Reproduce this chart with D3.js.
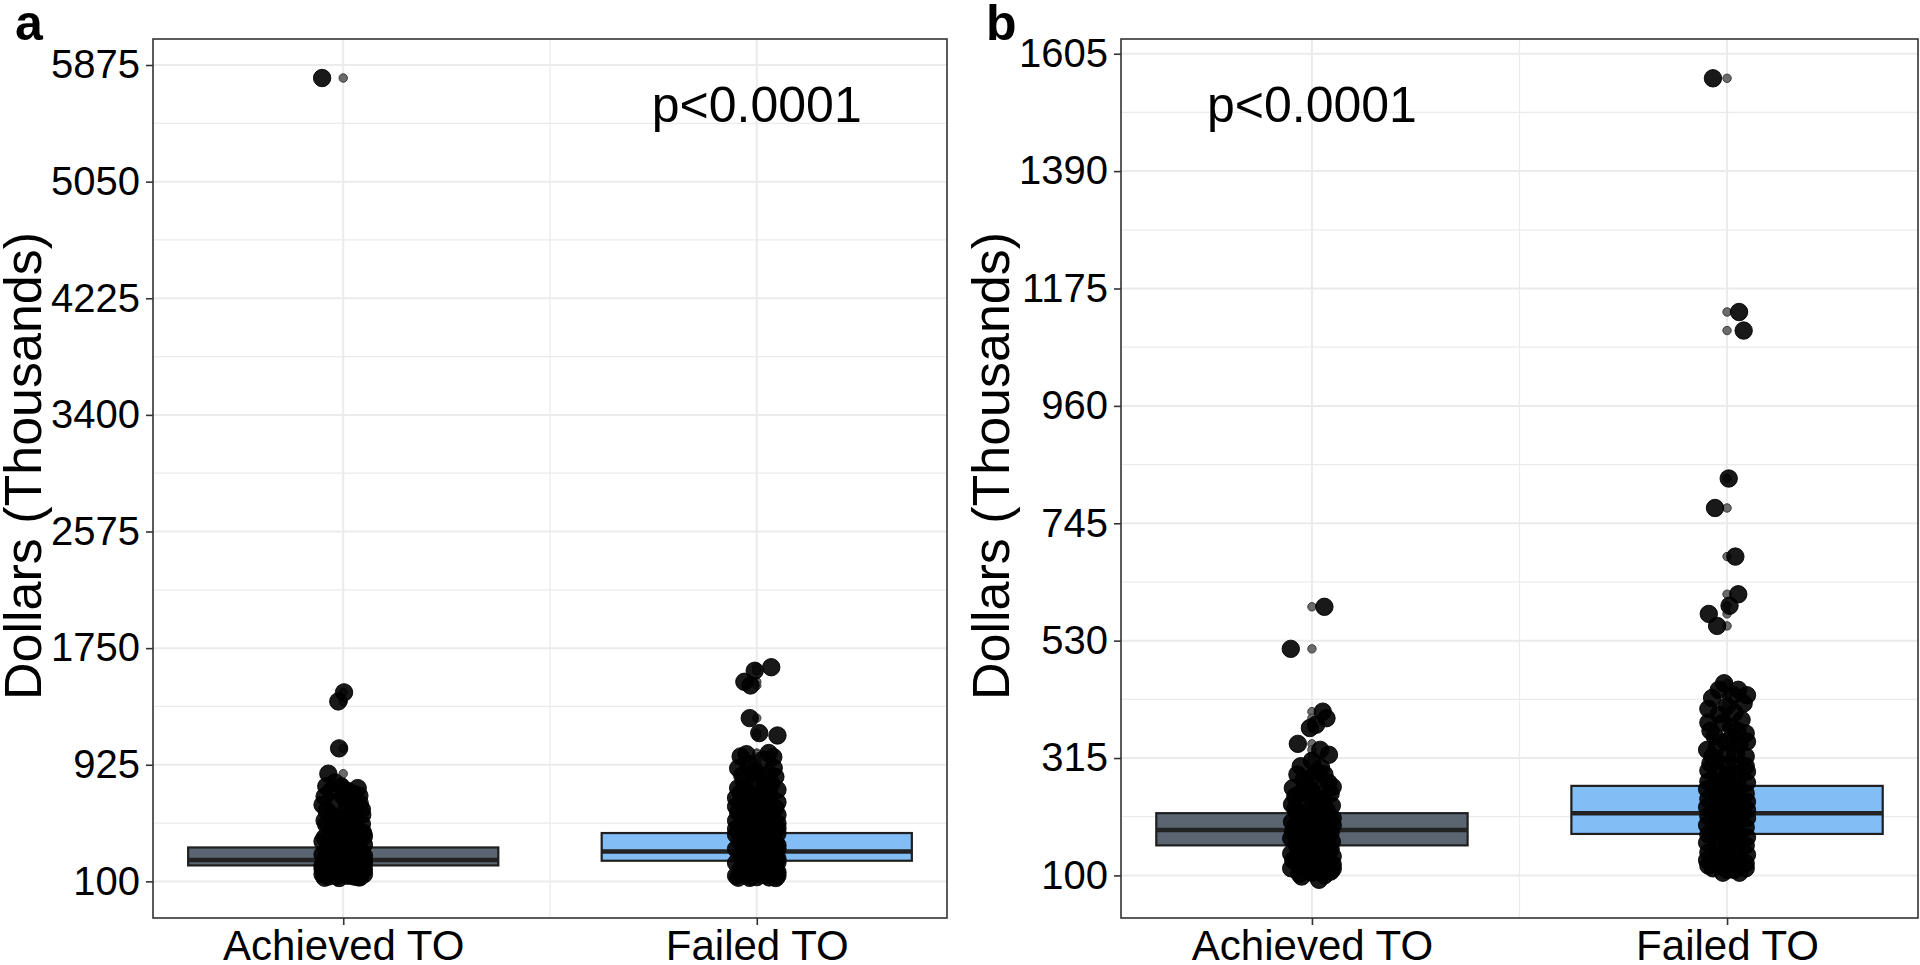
<!DOCTYPE html>
<meta charset="utf-8">
<script src="https://cdn.jsdelivr.net/npm/d3@7"></script>
<style>
  body { margin: 0; background: #fff; }
  text { font-family: "Liberation Sans", Arial, sans-serif; }
</style>
<svg id="chart" width="1920" height="965"></svg>
<script>

// categories and axis breaks
const groups = ["Achieved TO", "Failed TO"];
const ticksA = [100, 925, 1750, 2575, 3400, 4225, 5050, 5875];
const ticksB = [100, 315, 530, 745, 960, 1175, 1390, 1605];
const domainA = [-159, 6059];
const domainB = [22, 1632];

// box statistics (Achieved, Failed)
const q1A = [213, 246], medA = [252, 312], q3A = [340, 442];
const q1B = [155, 176], medB = [183, 214], q3B = [214, 264];

// jittered points: [horizontal jitter in category units, value]
const achievedA = [
  [-0.051, 5783], [0.002, 1437], [-0.012, 1373], [-0.010, 1041], [-0.036, 862],
  [-0.041, 772], [-0.005, 772], [0.039, 706], [-0.045, 700], [0.0, 700], [0.015, 678],
  [0.04, 650], [-0.05, 642], [0.02, 600], [-0.029, 572], [0.046, 572], [-0.03, 560],
  [-0.01, 520], [-0.041, 501], [0.03, 480], [0.048, 444], [-0.02, 455], [0.03, 470],
  [-0.045, 410], [0.0, 420], [0.04, 400], [-0.05, 383], [-0.03, 370], [0.015, 365],
  [0.05, 360], [-0.01, 330], [0.035, 325], [-0.04, 315], [-0.05, 290], [-0.015, 295],
  [0.025, 285], [0.05, 280], [-0.035, 255], [0.005, 250], [0.045, 245], [-0.05, 215],
  [-0.02, 210], [0.02, 205], [0.048, 210], [-0.04, 175], [0.0, 170], [0.04, 165],
  [-0.05, 150], [-0.015, 140], [0.025, 135], [0.05, 150], [-0.045, 126], [-0.01, 124],
  [0.035, 130], [0.01, 740], [-0.02, 800], [0.035, 760],
  [-0.03, 740], [0.025, 720], [-0.02, 660], [0.01, 625], [-0.04, 600], [0.045, 610],
  [0.0, 545], [0.025, 540], [-0.045, 530], [0.015, 500], [-0.025, 480], [0.045, 505],
  [-0.03, 440], [0.015, 445], [0.025, 400], [-0.02, 395], [0.05, 420], [-0.005, 375],
  [0.035, 345], [-0.03, 340], [0.015, 310], [-0.025, 315], [0.045, 305], [0.0, 275],
  [-0.03, 270], [0.035, 265], [-0.015, 230], [0.025, 232], [-0.045, 240], [0.05, 230],
  [-0.025, 190], [0.02, 190], [0.05, 185], [-0.05, 190], [-0.02, 160], [0.015, 155],
  [-0.035, 135], [0.01, 140], [0.04, 128]
];
const failedA = [
  [0.035, 1615], [-0.005, 1590], [-0.03, 1512], [-0.015, 1486], [-0.017, 1255],
  [0.006, 1149], [0.05, 1132], [-0.039, 984], [0.029, 1008], [0.041, 902], [-0.031, 807],
  [0.05, 748], [-0.039, 725], [0.0, 870], [-0.045, 760], [0.02, 800], [0.045, 840],
  [-0.02, 930], [0.01, 720], [-0.05, 690], [-0.02, 680], [0.03, 690], [0.05, 660],
  [-0.05, 630], [0.0, 640], [0.045, 620], [-0.03, 580], [0.02, 590], [0.05, 570],
  [-0.05, 530], [-0.01, 540], [0.035, 525], [-0.035, 480], [0.01, 490], [0.05, 475],
  [-0.05, 430], [-0.015, 435], [0.03, 425], [0.05, 440], [-0.04, 380], [0.0, 385],
  [0.045, 375], [-0.05, 330], [-0.02, 335], [0.02, 325], [0.05, 330], [-0.04, 280],
  [0.0, 285], [0.04, 275], [-0.05, 230], [-0.015, 235], [0.025, 225], [0.05, 235],
  [-0.04, 180], [0.005, 185], [0.045, 175], [-0.05, 140], [-0.015, 135], [0.025, 145],
  [0.05, 140], [-0.045, 126], [-0.017, 125], [0.03, 128], [0.046, 124],
  [-0.025, 1000], [0.015, 960], [0.04, 980], [-0.045, 900], [-0.01, 880], [0.03, 860],
  [-0.035, 850], [0.02, 760], [-0.01, 780], [0.035, 790], [-0.025, 740], [0.03, 730],
  [-0.01, 700], [0.015, 660], [-0.035, 650], [0.025, 640], [-0.025, 610], [0.01, 600],
  [-0.045, 590], [0.035, 560], [-0.02, 555], [0.015, 520], [0.05, 510], [-0.03, 505],
  [-0.015, 465], [0.03, 460], [-0.05, 470], [0.01, 410], [-0.03, 410], [0.035, 400],
  [0.02, 360], [-0.02, 360], [0.05, 355], [0.0, 310], [0.035, 300], [-0.035, 305],
  [0.02, 255], [-0.025, 255], [0.05, 260], [0.0, 210], [0.035, 200], [-0.035, 205],
  [0.02, 160], [-0.025, 160], [0.05, 165], [0.005, 150], [0.0, 130]
];
const achievedB = [
  [0.03, 592], [-0.051, 515], [0.026, 400], [0.035, 388], [0.01, 376], [-0.005, 370],
  [-0.034, 341], [0.041, 321], [0.02, 330], [-0.027, 300], [0.022, 297], [0.0, 310],
  [-0.046, 260], [0.0, 280], [0.04, 270], [-0.02, 275], [0.045, 250], [-0.04, 245],
  [0.0, 255], [0.025, 240], [-0.048, 230], [-0.015, 232], [0.02, 225], [0.048, 228],
  [-0.035, 215], [0.005, 212], [0.04, 208], [-0.048, 198], [-0.012, 200], [0.025, 195],
  [0.05, 192], [-0.03, 182], [0.01, 185], [0.045, 178], [-0.05, 168], [-0.018, 170],
  [0.02, 165], [0.048, 162], [-0.035, 152], [0.0, 155], [0.035, 150], [-0.05, 140],
  [-0.015, 138], [0.022, 140], [0.05, 135], [-0.04, 125], [0.0, 122], [0.035, 125],
  [-0.05, 113], [-0.015, 110], [0.018, 108], [0.045, 107], [-0.025, 98], [0.017, 92],
  [0.012, 290], [-0.035, 285], [0.03, 285], [-0.01, 262], [0.022, 258], [0.05, 262],
  [-0.028, 250], [0.01, 238], [-0.04, 222], [0.035, 220], [0.0, 226], [-0.025, 205],
  [0.022, 210], [0.05, 205], [-0.04, 190], [0.005, 195], [0.04, 190], [-0.015, 178],
  [0.03, 172], [-0.045, 180], [0.0, 168], [-0.035, 160], [0.035, 160], [0.01, 145],
  [-0.03, 145], [0.045, 148], [-0.02, 128], [0.02, 130], [0.05, 120], [-0.045, 128],
  [-0.03, 103], [0.0, 105], [0.03, 100], [0.05, 112]
];
const failedB = [
  [-0.034, 1560], [0.029, 1132], [0.04, 1098], [0.004, 827], [-0.029, 773], [0.02, 684],
  [0.027, 615], [0.006, 594], [-0.044, 579], [-0.024, 557], [-0.007, 452], [0.027, 440],
  [-0.036, 425], [0.04, 415], [0.0, 410], [-0.02, 395], [0.035, 385], [-0.045, 380],
  [0.01, 372], [0.045, 360], [-0.03, 355], [-0.005, 345], [0.03, 340], [-0.048, 330],
  [0.0, 322], [0.045, 318], [-0.025, 310], [0.02, 300], [-0.045, 292], [0.048, 290],
  [0.0, 285], [-0.025, 272], [0.025, 270], [-0.048, 258], [0.0, 255], [0.045, 250],
  [-0.025, 240], [0.025, 238], [-0.048, 225], [0.0, 222], [0.048, 220], [-0.025, 208],
  [0.025, 205], [-0.048, 192], [0.0, 190], [0.045, 188], [-0.025, 175], [0.025, 172],
  [-0.048, 160], [0.0, 158], [0.045, 155], [-0.025, 142], [0.025, 140], [-0.048, 128],
  [0.0, 125], [0.045, 122], [-0.034, 113], [0.018, 110], [0.045, 113], [-0.01, 105],
  [0.015, 430], [-0.02, 440], [0.048, 430], [-0.045, 405], [0.018, 398], [-0.01, 380],
  [0.025, 365], [-0.04, 365], [0.048, 345], [0.012, 352], [-0.025, 335], [-0.035, 318],
  [0.022, 322], [0.0, 302], [-0.04, 305], [0.045, 300], [0.022, 285], [-0.02, 288],
  [0.0, 268], [-0.045, 272], [0.048, 270], [0.022, 255], [-0.025, 255], [0.0, 238],
  [-0.045, 240], [0.048, 235], [0.022, 222], [-0.025, 222], [0.0, 205], [-0.045, 208],
  [0.048, 205], [0.022, 190], [-0.025, 190], [0.0, 172], [-0.045, 175], [0.048, 170],
  [0.022, 158], [-0.025, 158], [0.0, 140], [-0.045, 142], [0.048, 138], [0.022, 125],
  [-0.025, 125], [0.0, 110], [-0.045, 118], [0.03, 105]
];

const pText = "p<0.0001";
const boxFill = ["#5a6571", "#82bdf6"];

var svg = d3.select("#chart");
var plotTop = 39, plotBottom = 918;

function drawPanel(o) {
  var g = svg.append("g");

  var x = d3.scalePoint().domain(groups).range([o.left, o.right]).padding(0.46);
  var step = x.step();
  var y = d3.scaleLinear().domain(o.domain).range([plotBottom, plotTop]);

  // grid
  var minors = d3.pairs(o.ticks).map(function(p) { return (p[0] + p[1]) / 2; });
  g.selectAll(".minor").data(minors).enter().append("line")
    .attr("x1", o.left).attr("x2", o.right)
    .attr("y1", function(d) { return y(d); }).attr("y2", function(d) { return y(d); })
    .attr("stroke", "#ebebeb").attr("stroke-width", 1.2);
  g.append("line")
    .attr("x1", (x(groups[0]) + x(groups[1])) / 2).attr("x2", (x(groups[0]) + x(groups[1])) / 2)
    .attr("y1", plotTop).attr("y2", plotBottom)
    .attr("stroke", "#ebebeb").attr("stroke-width", 1.2);
  g.selectAll(".major").data(o.ticks).enter().append("line")
    .attr("x1", o.left).attr("x2", o.right)
    .attr("y1", function(d) { return y(d); }).attr("y2", function(d) { return y(d); })
    .attr("stroke", "#ebebeb").attr("stroke-width", 2);
  g.selectAll(".vmajor").data(groups).enter().append("line")
    .attr("x1", function(d) { return x(d); }).attr("x2", function(d) { return x(d); })
    .attr("y1", plotTop).attr("y2", plotBottom)
    .attr("stroke", "#ebebeb").attr("stroke-width", 2);

  // boxplots
  groups.forEach(function(grp, i) {
    var cx = x(grp), hw = step * 0.375;
    var vals = o.points[i].map(function(d) { return d[1]; });
    var iqr = o.q3[i] - o.q1[i];
    var hi = o.q3[i] + 1.5 * iqr, lo = o.q1[i] - 1.5 * iqr;
    var inside = vals.filter(function(v) { return v <= hi && v >= lo; });
    var outl = vals.filter(function(v) { return v > hi || v < lo; });

    g.append("line").attr("x1", cx).attr("x2", cx)
      .attr("y1", y(o.q3[i])).attr("y2", y(d3.max(inside)))
      .attr("stroke", "#222").attr("stroke-width", 2);
    g.append("line").attr("x1", cx).attr("x2", cx)
      .attr("y1", y(o.q1[i])).attr("y2", y(d3.min(inside)))
      .attr("stroke", "#222").attr("stroke-width", 2);
    g.append("rect")
      .attr("x", cx - hw).attr("width", hw * 2)
      .attr("y", y(o.q3[i])).attr("height", y(o.q1[i]) - y(o.q3[i]))
      .attr("fill", boxFill[i]).attr("stroke", "#1f1f1f").attr("stroke-width", 2.2);
    g.append("line").attr("x1", cx - hw).attr("x2", cx + hw)
      .attr("y1", y(o.med[i])).attr("y2", y(o.med[i]))
      .attr("stroke", "#222").attr("stroke-width", 4.5);
    g.selectAll(null).data(outl).enter().append("circle")
      .attr("cx", cx).attr("cy", function(d) { return y(d); })
      .attr("r", 4.2)
      .attr("fill", "#6b6b6b").attr("stroke", "#3a3a3a").attr("stroke-width", 1);
  });

  // jittered points
  groups.forEach(function(grp, i) {
    g.selectAll(null).data(o.points[i]).enter().append("circle")
      .attr("cx", function(d) { return x(grp) + d[0] * step; })
      .attr("cy", function(d) { return y(d[1]); })
      .attr("r", 8.7)
      .attr("fill", "#000").attr("fill-opacity", 0.9)
      .attr("stroke", "#000").attr("stroke-opacity", 0.9).attr("stroke-width", 1);
  });

  // p value
  g.append("text")
    .attr("x", x(o.pGroup)).attr("y", y(o.pValue))
    .attr("text-anchor", "middle")
    .style("font-size", "50px")
    .text(pText);

  // panel border
  g.append("rect")
    .attr("x", o.left).attr("y", plotTop)
    .attr("width", o.right - o.left).attr("height", plotBottom - plotTop)
    .attr("fill", "none").attr("stroke", "#333").attr("stroke-width", 1.6);

  // axes
  var ya = g.append("g").attr("transform", "translate(" + o.left + ",0)")
    .call(d3.axisLeft(y).tickValues(o.ticks).tickFormat(d3.format("d")).tickSize(7).tickPadding(6));
  ya.select(".domain").remove();
  ya.selectAll("line").attr("stroke", "#333").attr("stroke-width", 1.6);
  ya.selectAll("text").style("font-size", "40px").attr("fill", "#000");

  var xa = g.append("g").attr("transform", "translate(0," + plotBottom + ")")
    .call(d3.axisBottom(x).tickSize(7).tickPadding(5));
  xa.select(".domain").remove();
  xa.selectAll("line").attr("stroke", "#333").attr("stroke-width", 1.6);
  xa.selectAll("text").style("font-size", "42px").attr("fill", "#000");

  // y title
  g.append("text")
    .attr("transform", "translate(" + o.titleX + ",466) rotate(-90)")
    .attr("text-anchor", "middle")
    .style("font-size", "52px")
    .text("Dollars (Thousands)");

  // panel letter
  g.append("text")
    .attr("x", o.letterX).attr("y", 40)
    .style("font-size", "50px").style("font-weight", "bold")
    .text(o.letter);
}

drawPanel({
  left: 153, right: 947, domain: domainA, ticks: ticksA,
  q1: q1A, med: medA, q3: q3A, points: [achievedA, failedA],
  pGroup: "Failed TO", pValue: 5470,
  titleX: 41, letter: "a", letterX: 15
});
drawPanel({
  left: 1121, right: 1918, domain: domainB, ticks: ticksB,
  q1: q1B, med: medB, q3: q3B, points: [achievedB, failedB],
  pGroup: "Achieved TO", pValue: 1480,
  titleX: 1009, letter: "b", letterX: 986
});

</script>
